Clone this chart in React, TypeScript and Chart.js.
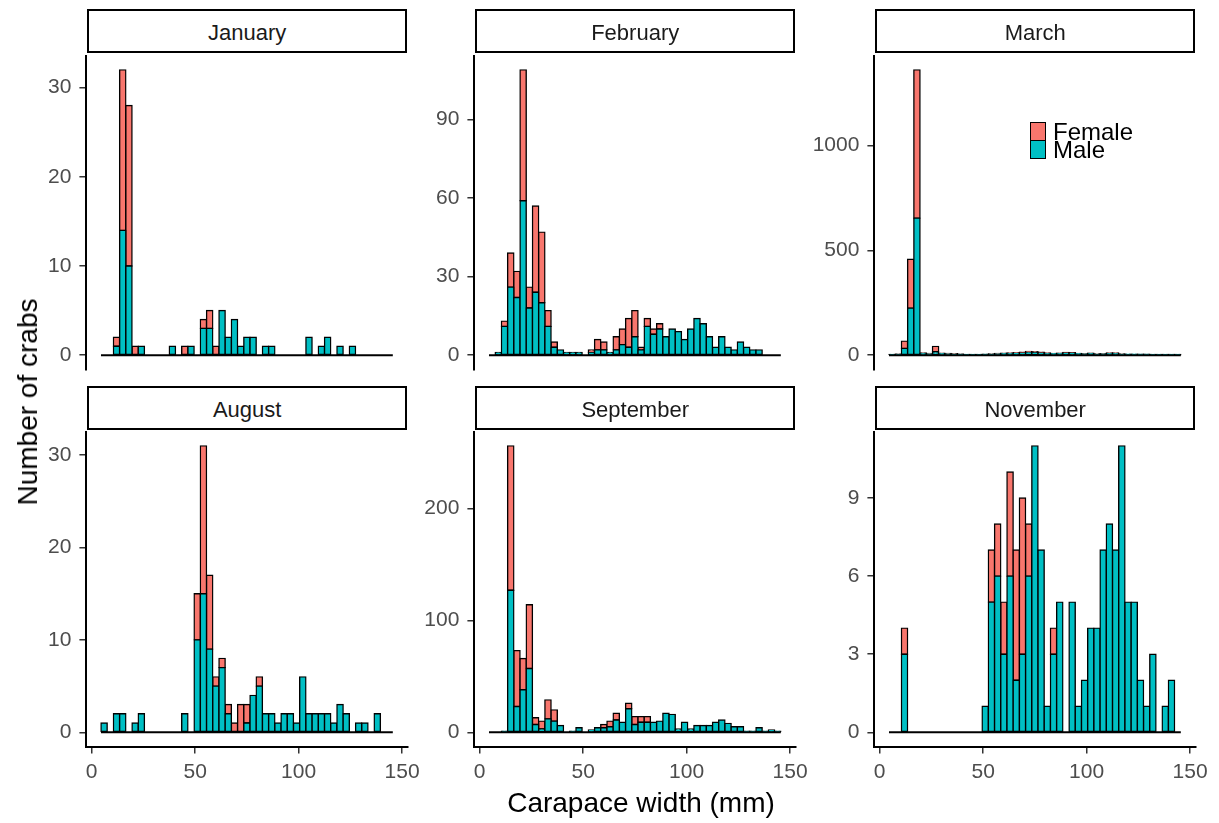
import React, { useEffect, useRef } from "react";
import { Chart, registerables } from "chart.js";

Chart.register(...registerables);

const FONT = "'Liberation Sans', Arial, Helvetica, sans-serif";

// Carapace-width classes (mm): centres of 3 mm bins
const BIN_CENTERS = [
  6, 9, 12, 15, 18, 21, 24, 27, 30, 33,
  36, 39, 42, 45, 48, 51, 54, 57, 60, 63,
  66, 69, 72, 75, 78, 81, 84, 87, 90, 93,
  96, 99, 102, 105, 108, 111, 114, 117, 120, 123,
  126, 129, 132, 135, 138, 141, 144,
];
const BIN_WIDTH = 3;
const X_TICKS = [0, 50, 100, 150];

const JAN_MALE = [
  0, 0, 1, 14, 10, 0, 1, 0, 0, 0,
  0, 1, 0, 0, 1, 0, 3, 3, 0, 5,
  2, 4, 1, 2, 2, 0, 1, 1, 0, 0,
  0, 0, 0, 2, 0, 1, 2, 0, 1, 0,
  1, 0, 0, 0, 0, 0, 0,
];
const JAN_FEMALE = [
  0, 0, 1, 18, 18, 1, 0, 0, 0, 0,
  0, 0, 0, 1, 0, 0, 1, 2, 1, 0,
  0, 0, 0, 0, 0, 0, 0, 0, 0, 0,
  0, 0, 0, 0, 0, 0, 0, 0, 0, 0,
  0, 0, 0, 0, 0, 0, 0,
];
const JAN_TICKS = [0, 10, 20, 30];

const FEB_MALE = [
  0, 1, 11, 26, 22, 59, 18, 24, 20, 11,
  3, 2, 1, 1, 1, 0, 1, 2, 2, 1,
  2, 4, 3, 7, 2, 11, 8, 10, 7, 10,
  9, 6, 10, 14, 12, 7, 3, 7, 3, 2,
  5, 3, 2, 2, 0, 0, 0,
];
const FEB_FEMALE = [
  0, 0, 2, 13, 10, 50, 8, 33, 27, 6,
  2, 0, 0, 0, 0, 0, 1, 4, 3, 0,
  5, 6, 11, 10, 1, 3, 2, 2, 0, 0,
  0, 0, 0, 0, 0, 0, 0, 0, 0, 0,
  0, 0, 0, 0, 0, 0, 0,
];
const FEB_TICKS = [0, 30, 60, 90];

const MAR_MALE = [
  3, 4, 32, 224, 653, 7, 6, 16, 7, 6,
  5, 4, 3, 2, 3, 4, 5, 6, 7, 8,
  9, 11, 14, 13, 11, 8, 7, 8, 11, 10,
  7, 6, 8, 5, 6, 8, 8, 5, 5, 5,
  4, 4, 3, 3, 3, 2, 2,
];
const MAR_FEMALE = [
  0, 1, 35, 233, 707, 3, 2, 26, 2, 2,
  2, 1, 0, 0, 0, 0, 1, 2, 2, 2,
  3, 3, 4, 3, 3, 2, 1, 1, 2, 2,
  1, 1, 1, 1, 1, 2, 2, 1, 0, 0,
  0, 0, 0, 0, 0, 0, 0,
];
const MAR_TICKS = [0, 500, 1000];

const AUG_MALE = [
  1, 0, 2, 2, 0, 1, 2, 0, 0, 0,
  0, 0, 0, 2, 0, 10, 15, 9, 5, 7,
  2, 0, 0, 1, 4, 5, 2, 2, 1, 2,
  2, 1, 6, 2, 2, 2, 2, 1, 3, 2,
  0, 1, 1, 0, 2, 0, 0,
];
const AUG_FEMALE = [
  0, 0, 0, 0, 0, 0, 0, 0, 0, 0,
  0, 0, 0, 0, 0, 5, 16, 8, 1, 1,
  1, 1, 3, 2, 0, 1, 0, 0, 0, 0,
  0, 0, 0, 0, 0, 0, 0, 0, 0, 0,
  0, 0, 0, 0, 0, 0, 0,
];
const AUG_TICKS = [0, 10, 20, 30];

const SEP_MALE = [
  0, 0, 1, 127, 23, 38, 57, 7, 3, 12,
  10, 6, 0, 1, 4, 0, 2, 4, 4, 5,
  11, 9, 21, 7, 9, 9, 9, 10, 17, 16,
  3, 9, 3, 6, 6, 6, 9, 11, 8, 5,
  5, 1, 1, 4, 1, 2, 1,
];
const SEP_FEMALE = [
  0, 0, 0, 129, 50, 28, 57, 6, 7, 17,
  10, 0, 0, 0, 0, 0, 0, 0, 3, 5,
  6, 0, 5, 7, 5, 5, 0, 0, 0, 0,
  0, 0, 0, 0, 0, 0, 0, 0, 0, 0,
  0, 0, 0, 0, 0, 0, 0,
];
const SEP_TICKS = [0, 100, 200];

const NOV_MALE = [
  0, 0, 3, 0, 0, 0, 0, 0, 0, 0,
  0, 0, 0, 0, 0, 1, 5, 6, 3, 6,
  2, 3, 6, 11, 7, 1, 3, 5, 0, 5,
  1, 2, 4, 4, 7, 8, 7, 11, 5, 5,
  2, 1, 3, 0, 1, 2, 0,
];
const NOV_FEMALE = [
  0, 0, 1, 0, 0, 0, 0, 0, 0, 0,
  0, 0, 0, 0, 0, 0, 2, 2, 2, 4,
  5, 6, 2, 0, 0, 0, 1, 0, 0, 0,
  0, 0, 0, 0, 0, 0, 0, 0, 0, 0,
  0, 0, 0, 0, 0, 0, 0,
];
const NOV_TICKS = [0, 3, 6, 9];

const FEMALE_COLOR = "#F8766D";
const MALE_COLOR = "#00BFC4";

type Panel = {
  title: string;
  male: number[];
  female: number[];
  yTicks: number[];
};

const PANELS: Panel[] = [
  { title: "January", male: JAN_MALE, female: JAN_FEMALE, yTicks: JAN_TICKS },
  { title: "February", male: FEB_MALE, female: FEB_FEMALE, yTicks: FEB_TICKS },
  { title: "March", male: MAR_MALE, female: MAR_FEMALE, yTicks: MAR_TICKS },
  { title: "August", male: AUG_MALE, female: AUG_FEMALE, yTicks: AUG_TICKS },
  { title: "September", male: SEP_MALE, female: SEP_FEMALE, yTicks: SEP_TICKS },
  { title: "November", male: NOV_MALE, female: NOV_FEMALE, yTicks: NOV_TICKS },
];

// facet grid geometry (plot-area rectangles)
const COL_LEFT = [86.4, 474.4, 874.4];
const COL_WIDTH = 321;
const ROW_TOP = [55.2, 430.6];
const ROW_HEIGHT = [315, 316];
const STRIP_TOP = [9, 386];
const STRIP_HEIGHT = 44;

const binLow = BIN_CENTERS[0] - BIN_WIDTH / 2;
const binHigh = BIN_CENTERS[BIN_CENTERS.length - 1] + BIN_WIDTH / 2;
const binSpan = binHigh - binLow;

// zero-count bins are drawn as a flat line along the baseline
const zeroLine = {
  id: "zeroLine",
  afterDatasetsDraw(chart: any) {
    const { ctx, scales } = chart;
    const x = scales.x;
    const y = scales.y;
    const y0 = y.getPixelForValue(0);
    ctx.save();
    ctx.strokeStyle = "#000";
    ctx.lineWidth = 2;
    ctx.beginPath();
    ctx.moveTo(x.getPixelForValue(binLow), y0);
    ctx.lineTo(x.getPixelForValue(binHigh), y0);
    ctx.stroke();
    ctx.restore();
  },
};

function PanelChart({ panel, col, row }: { panel: Panel; col: number; row: number }) {
  const ref = useRef<HTMLCanvasElement>(null);
  const bottom = row === 1;
  const left = COL_LEFT[col];
  const top = ROW_TOP[row];
  const w = COL_WIDTH;
  const h = ROW_HEIGHT[row];
  const boxLeft = Math.round(left - 86);
  const yw = left - boxLeft;
  const boxTop = Math.round(top - 20);
  const pt = top - boxTop;
  const boxW = Math.round(yw + w + 26);
  const pr = boxW - yw - w;
  const boxH = Math.round(pt + h + (bottom ? 52 : 20));
  const pb = boxH - pt - h;

  useEffect(() => {
    if (!ref.current) return;
    const totals = panel.male.map((m, i) => m + panel.female[i]);
    const peak = Math.max(...totals);
    const toPoints = (vals: number[]) =>
      BIN_CENTERS.map((c, i) => ({ x: c, y: vals[i] === 0 ? null : vals[i] }));
    const barStyle = {
      borderColor: "#000",
      borderWidth: 1.4,
      borderSkipped: false,
      inflateAmount: 0.7,
      barPercentage: 1,
      categoryPercentage: 1,
      stack: "sex",
    };
    const tickFont = { family: FONT, size: 21 };
    const chart = new Chart(ref.current, {
      type: "bar",
      data: {
        datasets: [
          { label: "Male", data: toPoints(panel.male), backgroundColor: MALE_COLOR, ...barStyle } as any,
          { label: "Female", data: toPoints(panel.female), backgroundColor: FEMALE_COLOR, ...barStyle } as any,
        ],
      },
      options: {
        animation: false,
        responsive: true,
        maintainAspectRatio: false,
        devicePixelRatio: 1,
        events: [],
        layout: { padding: { top: pt, right: pr, bottom: bottom ? 0 : pb, left: 0 } },
        plugins: { legend: { display: false }, tooltip: { enabled: false } },
        scales: {
          x: {
            type: "linear",
            stacked: true,
            offset: false,
            display: bottom,
            min: binLow - 0.05 * binSpan,
            max: binHigh + 0.05 * binSpan,
            afterBuildTicks: (s: any) => {
              s.ticks = X_TICKS.map((v) => ({ value: v }));
            },
            afterFit: (s: any) => {
              s.height = bottom ? pb : 0;
            },
            grid: {
              offset: false,
              drawOnChartArea: false,
              drawTicks: true,
              tickLength: 7,
              color: "#333333",
              lineWidth: 1.5,
            },
            border: { display: true, color: "#000", width: 2 },
            ticks: {
              color: "#4D4D4D",
              font: tickFont,
              padding: 6,
              maxRotation: 0,
              autoSkip: false,
              callback: (v: any) => String(v),
            },
          },
          y: {
            type: "linear",
            stacked: true,
            min: -0.05 * peak,
            max: 1.05 * peak,
            afterBuildTicks: (s: any) => {
              s.ticks = panel.yTicks.map((v) => ({ value: v }));
            },
            afterFit: (s: any) => {
              s.width = yw;
            },
            grid: {
              offset: false,
              drawOnChartArea: false,
              drawTicks: true,
              tickLength: 7,
              color: "#333333",
              lineWidth: 1.5,
            },
            border: { display: true, color: "#000", width: 2 },
            ticks: {
              color: "#4D4D4D",
              font: tickFont,
              padding: 8,
              autoSkip: false,
              callback: (v: any) => String(v),
            },
          },
        },
      } as any,
      plugins: [zeroLine],
    });
    return () => chart.destroy();
  }, []);

  return (
    <div style={{ position: "absolute", left: boxLeft, top: boxTop, width: boxW, height: boxH }}>
      <canvas ref={ref} />
    </div>
  );
}

function Strip({ title, col, row }: { title: string; col: number; row: number }) {
  return (
    <div
      style={{
        position: "absolute",
        left: COL_LEFT[col] + 0.6,
        top: STRIP_TOP[row],
        width: COL_WIDTH - 0.6,
        height: STRIP_HEIGHT,
        boxSizing: "border-box",
        border: "2px solid #000",
        background: "#fff",
        display: "flex",
        alignItems: "center",
        justifyContent: "center",
        paddingTop: 3,
        fontFamily: FONT,
        fontSize: 22,
        color: "#1A1A1A",
      }}
    >
      {title}
    </div>
  );
}

function Legend() {
  const key = (color: string, top: number) => (
    <div
      style={{
        position: "absolute",
        left: 1030,
        top,
        width: 16,
        height: 19,
        boxSizing: "border-box",
        border: "1.5px solid #000",
        background: color,
      }}
    />
  );
  const label = (text: string, top: number) => (
    <div
      style={{
        position: "absolute",
        left: 1053,
        top,
        fontFamily: FONT,
        fontSize: 24,
        lineHeight: "24px",
        color: "#000",
        whiteSpace: "nowrap",
      }}
    >
      {text}
    </div>
  );
  return (
    <>
      {key(FEMALE_COLOR, 121.5)}
      {key(MALE_COLOR, 139.5)}
      {label("Female", 119.5)}
      {label("Male", 138.3)}
    </>
  );
}

export default function App() {
  return (
    <div
      style={{
        position: "fixed",
        left: 0,
        top: 0,
        width: 1219,
        height: 823,
        background: "#fff",
        overflow: "hidden",
      }}
    >
      {PANELS.map((p, i) => (
        <PanelChart key={p.title} panel={p} col={i % 3} row={Math.floor(i / 3)} />
      ))}
      {PANELS.map((p, i) => (
        <Strip key={"s" + p.title} title={p.title} col={i % 3} row={Math.floor(i / 3)} />
      ))}
      <Legend />
      <div
        style={{
          position: "absolute",
          left: 28,
          top: 402,
          transform: "translate(-50%, -50%) rotate(-90deg)",
          fontFamily: FONT,
          fontSize: 28,
          color: "#000",
          whiteSpace: "nowrap",
        }}
      >
        Number of crabs
      </div>
      <div
        style={{
          position: "absolute",
          left: 641,
          top: 803,
          transform: "translate(-50%, -50%)",
          fontFamily: FONT,
          fontSize: 28,
          color: "#000",
          whiteSpace: "nowrap",
        }}
      >
        Carapace width (mm)
      </div>
    </div>
  );
}
